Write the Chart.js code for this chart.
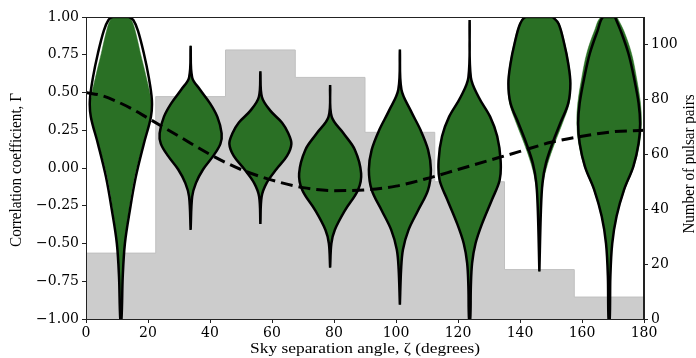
<!DOCTYPE html>
<html>
<head>
<meta charset="utf-8">
<script src="https://cdn.jsdelivr.net/npm/chart.js@4/dist/chart.umd.min.js"></script>
<style>
  html, body { margin: 0; padding: 0; background: #fff; }
  #wrap { width: 696px; height: 358px; position: relative; }
</style>
</head>
<body>
<div id="wrap"><canvas id="c" width="696" height="358"></canvas></div>
<script>
// Angular bins (degrees) and pair counts per bin
const binEdges = [0, 22.5, 45, 67.5, 90, 112.5, 135, 157.5, 180];
const binCenters = [11.25, 33.75, 56.25, 78.75, 101.25, 123.75, 146.25, 168.75];
const pairCounts = [24, 81, 98, 88, 68, 50, 18, 8];

// Hellings-Downs expectation, sampled in angle
const hdAngles = [0, 5, 10, 15, 20, 30, 40, 50, 60, 70, 80, 90, 100, 110, 120, 130, 140, 150, 160, 170, 180];
const hdGamma  = [0.50, 0.48, 0.44, 0.39, 0.33, 0.21, 0.09, -0.01, -0.08, -0.13, -0.15, -0.145, -0.12, -0.07, -0.01, 0.05, 0.11, 0.17, 0.21, 0.24, 0.25];

// Posterior density profiles per bin (outlined): [Gamma, relative width], top to bottom
const violin1 = [[1.00,0.26],[0.98,0.40],[0.91,0.55],[0.76,0.74],[0.60,0.90],[0.45,1.00],[0.34,0.97],[0.16,0.74],[-0.06,0.48],[-0.28,0.29],[-0.50,0.13],[-0.72,0.06],[-1.00,0.02]];
const violin2 = [[0.81,0],[0.60,0.05],[0.52,0.30],[0.43,0.62],[0.34,0.86],[0.23,1.00],[0.16,0.96],[0.08,0.73],[-0.01,0.40],[-0.10,0.17],[-0.19,0.05],[-0.41,0]];
const violin3 = [[0.64,0],[0.47,0.05],[0.38,0.32],[0.30,0.70],[0.23,0.90],[0.16,1.00],[0.08,0.86],[-0.01,0.51],[-0.10,0.20],[-0.19,0.04],[-0.37,0]];
const violin4 = [[0.55,0],[0.34,0.05],[0.23,0.43],[0.12,0.80],[-0.035,1.00],[-0.145,0.90],[-0.28,0.48],[-0.41,0.15],[-0.50,0.04],[-0.66,0]];
const violin5 = [[0.785,0],[0.52,0.05],[0.38,0.35],[0.25,0.67],[0.12,0.91],[-0.01,1.00],[-0.145,0.91],[-0.28,0.59],[-0.41,0.28],[-0.54,0.10],[-0.67,0.04],[-0.905,0]];
const violin6 = [[0.98,0],[0.60,0.04],[0.47,0.29],[0.34,0.66],[0.21,0.89],[0.05,1.00],[-0.08,0.97],[-0.21,0.72],[-0.37,0.40],[-0.50,0.19],[-0.63,0.08],[-0.785,0.04],[-1.00,0.02]];
const violin7 = [[1.00,0.43],[0.956,0.62],[0.824,0.80],[0.692,0.93],[0.56,1.00],[0.428,0.93],[0.295,0.67],[0.163,0.42],[0.031,0.21],[-0.10,0.10],[-0.28,0.05],[-0.685,0]];
const violin8 = [[1.00,0.19],[0.91,0.37],[0.76,0.62],[0.60,0.80],[0.43,0.95],[0.295,1.00],[0.163,0.95],[0.009,0.78],[-0.145,0.48],[-0.32,0.24],[-0.50,0.10],[-0.72,0.04],[-1.00,0.02]];
const violins = [violin1, violin2, violin3, violin4, violin5, violin6, violin7, violin8];

// Filled density profiles where they differ from the outlined ones
const fill1 = [[1.00,0.22],[0.98,0.34],[0.91,0.46],[0.76,0.63],[0.60,0.82],[0.45,0.97],[0.34,0.96],[0.16,0.72],[-0.06,0.44],[-0.28,0.26],[-0.50,0.12],[-0.72,0.05],[-1.00,0.02]];
const fill7 = [[1.00,0.45],[0.956,0.64],[0.824,0.82],[0.692,0.95],[0.56,1.01],[0.428,0.96],[0.295,0.74],[0.163,0.49],[0.031,0.27],[-0.10,0.12],[-0.28,0.05],[-0.685,0]];
const fill8 = [[1.00,0.25],[0.91,0.47],[0.76,0.72],[0.60,0.88],[0.43,1.01],[0.295,1.04],[0.163,0.98],[0.009,0.80],[-0.145,0.50],[-0.32,0.25],[-0.50,0.10],[-0.72,0.04],[-1.00,0.02]];
const fills = [fill1, violin2, violin3, violin4, violin5, violin6, fill7, fill8];

const yTicks = [-1.00, -0.75, -0.50, -0.25, 0.00, 0.25, 0.50, 0.75, 1.00];
const xTicks = [0, 20, 40, 60, 80, 100, 120, 140, 160, 180];
const countTicks = [0, 20, 40, 60, 80, 100];

const TICK_FONT = "'DejaVu Serif', 'Liberation Serif', serif";
const TITLE_FONT = "'Liberation Serif', 'DejaVu Serif', serif";
const GREEN = 'rgb(42,112,37)';
const HALF_WIDTH = 10; // widest half-width of a violin, degrees

// closed outline: right edge downward, then left edge back up
function violinOutline(center, profile) {
  const right = profile.map(([g, w]) => ({ x: center + w * HALF_WIDTH, y: g }));
  const left = profile.slice().reverse().map(([g, w]) => ({ x: center - w * HALF_WIDTH, y: g }));
  const pts = right.concat(left);
  pts.push({ ...pts[0] });
  return pts;
}

const fillSets = fills.map((prof, i) => ({
  type: 'scatter',
  showLine: true,
  data: violinOutline(binCenters[i], prof),
  backgroundColor: GREEN,
  borderColor: GREEN,
  borderWidth: 0.5,
  fill: 'shape',
  tension: 0.35,
  pointRadius: 0,
  yAxisID: 'y',
  order: 6
}));

const outlineSets = violins.map((prof, i) => ({
  type: 'scatter',
  showLine: true,
  data: violinOutline(binCenters[i], prof),
  borderColor: '#000',
  borderWidth: 2.5,
  fill: false,
  tension: 0.35,
  pointRadius: 0,
  yAxisID: 'y',
  order: 5
}));

// histogram outline: one step per bin, last level carried to the right edge
const histPoints = binEdges.map((e, i) => ({ x: e, y: pairCounts[Math.min(i, pairCounts.length - 1)] }));

const frame = {
  id: 'frame',
  afterDraw(chart) {
    const { ctx, chartArea: a } = chart;
    ctx.save();
    ctx.strokeStyle = '#222';
    ctx.lineWidth = 1;
    ctx.strokeRect(a.left + 0.5, a.top + 0.5, a.right - a.left - 1, a.bottom - a.top);
    ctx.restore();
  }
};

// axis titles, each stretched to its drawn length
function fitText(ctx, text, x, y, rot, length) {
  ctx.save();
  ctx.translate(x, y);
  ctx.rotate(rot);
  const w = ctx.measureText(text).width;
  ctx.scale(length / w, 1);
  ctx.fillText(text, 0, 0);
  ctx.restore();
}

const titles = {
  id: 'titles',
  afterDraw(chart) {
    const { ctx, chartArea: a } = chart;
    const midY = (a.top + a.bottom) / 2;
    ctx.save();
    ctx.fillStyle = '#000';
    ctx.textAlign = 'center';
    ctx.textBaseline = 'middle';
    ctx.font = "15px " + TITLE_FONT;
    fitText(ctx, 'Sky separation angle, \u03B6 (degrees)', (a.left + a.right) / 2, 349, 0, 230);
    ctx.font = "17px " + TITLE_FONT;
    fitText(ctx, 'Correlation coefficient, \u0393', 17, midY + 2, -Math.PI / 2, 154);
    fitText(ctx, 'Number of pulsar pairs', 690, midY - 4, -Math.PI / 2, 139);
    ctx.restore();
  }
};

const fmtGamma = v => (v < 0 ? '\u2212' : '') + Math.abs(v).toFixed(2);

const axisGrid = { display: true, drawOnChartArea: false, drawTicks: true, tickLength: 4, color: '#222' };

new Chart(document.getElementById('c'), {
  data: {
    datasets: [
      {
        type: 'line',
        data: hdAngles.map((a, i) => ({ x: a, y: hdGamma[i] })),
        borderColor: '#000',
        borderWidth: 3,
        borderDash: [12, 6],
        pointRadius: 0,
        fill: false,
        cubicInterpolationMode: 'monotone',
        yAxisID: 'y',
        order: 1
      },
      ...outlineSets,
      ...fillSets,
      {
        type: 'line',
        data: histPoints,
        stepped: 'before',
        backgroundColor: 'rgb(204,204,204)',
        borderColor: 'rgb(192,192,192)',
        borderWidth: 1,
        fill: 'origin',
        pointRadius: 0,
        yAxisID: 'y2',
        order: 10
      }
    ]
  },
  options: {
    responsive: false,
    animation: false,
    layout: { padding: { top: 17, left: 0, right: 0, bottom: 0 } },
    plugins: { legend: { display: false }, tooltip: { enabled: false } },
    scales: {
      x: {
        type: 'linear',
        offset: false,
        min: 0, max: 180,
        afterBuildTicks: s => { s.ticks = xTicks.map(v => ({ value: v })); },
        afterFit: s => { s.height = 39; },
        grid: axisGrid,
        border: { display: true, color: '#222' },
        ticks: { color: '#000', font: { family: TICK_FONT, size: 14 }, padding: 2, maxRotation: 0 }
      },
      y: {
        type: 'linear',
        position: 'left',
        min: -1, max: 1,
        afterBuildTicks: s => { s.ticks = yTicks.map(v => ({ value: v })); },
        afterFit: s => { s.width = 86; },
        grid: axisGrid,
        border: { display: true, color: '#222' },
        ticks: { color: '#000', font: { family: TICK_FONT, size: 14 }, padding: 3, callback: v => fmtGamma(v) }
      },
      y2: {
        type: 'linear',
        position: 'right',
        min: 0, max: 110,
        afterBuildTicks: s => { s.ticks = countTicks.map(v => ({ value: v })); },
        afterFit: s => { s.width = 52; },
        grid: axisGrid,
        border: { display: true, color: '#222' },
        ticks: { color: '#000', font: { family: TICK_FONT, size: 14 }, padding: 3 }
      }
    }
  },
  plugins: [frame, titles]
});
</script>
</body>
</html>
